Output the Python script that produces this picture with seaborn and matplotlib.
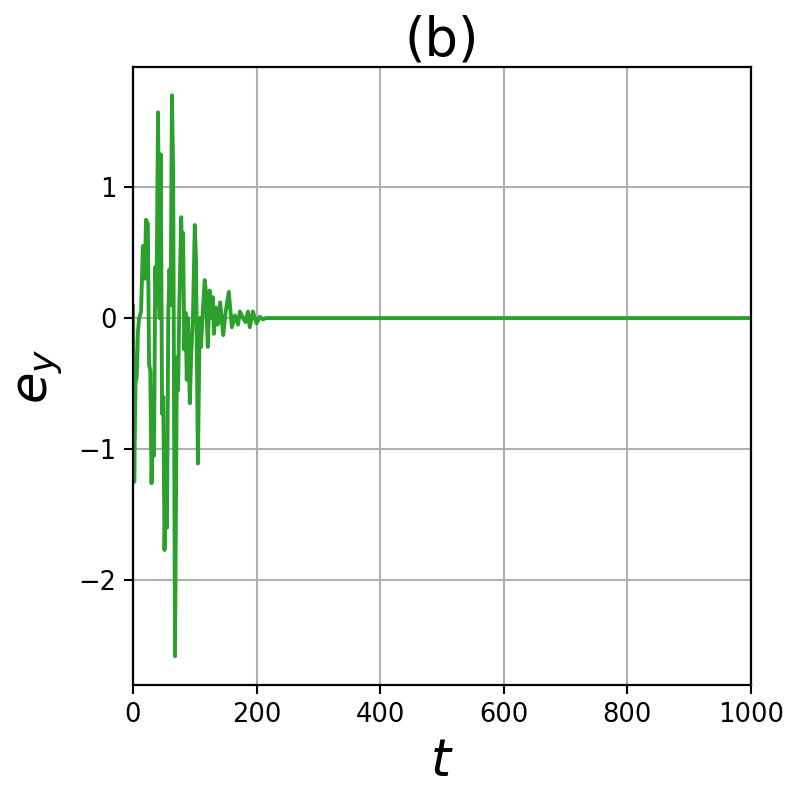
import matplotlib
matplotlib.use("Agg")
import matplotlib.pyplot as plt
import seaborn as sns
import pandas as pd

t_vals = [0, 2, 4, 6, 8, 10, 13, 16, 19, 21, 24, 26, 28, 30, 32, 34, 36, 38, 40.5, 43, 45,
          47, 49, 51, 53, 55, 57, 59, 61, 63, 65, 68, 71, 73, 75, 78, 80, 81, 83, 85, 87,
          89, 92, 94, 97, 100, 102, 105, 108, 110, 113, 116, 118, 121, 124, 127, 129, 131,
          134, 137, 141, 146, 150, 155, 160, 165, 170, 173, 178, 182, 186, 189, 194, 200,
          205, 210, 215, 1000]
ey_vals = [0.1, -1.25, -0.5, -0.45, -0.1, 0.0, 0.05, 0.55, 0.3, 0.75, 0.72, -0.35, -0.4,
           -1.26, -0.8, -1.05, 0.39, 0.1, 1.57, 0.0, 1.25, -0.73, -0.6, -1.77, -1.2, -1.6,
           0.0, 0.37, 0.1, 1.70, 1.1, -2.58, -0.3, -0.55, 0.11, 0.77, 0.3, 0.65, -0.24, 0.04,
           -0.47, 0.0, -0.65, -0.3, 0.0, 0.71, 0.44, -1.11, 0.0, -0.22, 0.05, 0.29, 0.2,
           -0.22, 0.21, 0.0, 0.16, -0.12, 0.08, -0.05, 0.12, -0.13, 0.05, 0.2, -0.07, 0.02,
           -0.05, 0.05, 0.0, -0.03, 0.05, -0.07, 0.05, -0.04, 0.01, -0.01, 0.0, 0.0]

df = pd.DataFrame({"t": t_vals, "ey": ey_vals})

sns.set_style("ticks")
plt.rcParams['font.family'] = ['DejaVu Sans']
plt.rcParams['text.color'] = 'black'
plt.rcParams['axes.labelcolor'] = 'black'
plt.rcParams['xtick.color'] = 'black'
plt.rcParams['ytick.color'] = 'black'

fig = plt.figure(figsize=(8, 8), dpi=100)
ax = fig.add_axes([0.16625, 0.14375, 0.7725, 0.7725])
sns.lineplot(data=df, x="t", y="ey", ax=ax, color="#2ca02c", linewidth=2.8,
             estimator=None, sort=False)
ax.set_xlim(0, 1000)
ax.set_ylim(-2.80, 1.916)
ax.set_xticks([0, 200, 400, 600, 800, 1000])
ax.set_yticks([-2, -1, 0, 1])
ax.set_yticklabels(["\u22122", "\u22121", "0", "1"])
ax.grid(True, color="#b0b0b0", linewidth=1.5)
ax.tick_params(labelsize=18.5, direction="out", length=6.5, width=1.5, pad=5.5,
               colors="black")
for s in ax.spines.values():
    s.set_linewidth(1.6)
    s.set_color("black")
ax.set_xlabel("$t$", fontsize=37, labelpad=7)
ax.set_ylabel("$e_y$", fontsize=37, labelpad=10)
ax.set_title("(b)", fontsize=38, pad=6)
fig.savefig("out.png", dpi=100)
